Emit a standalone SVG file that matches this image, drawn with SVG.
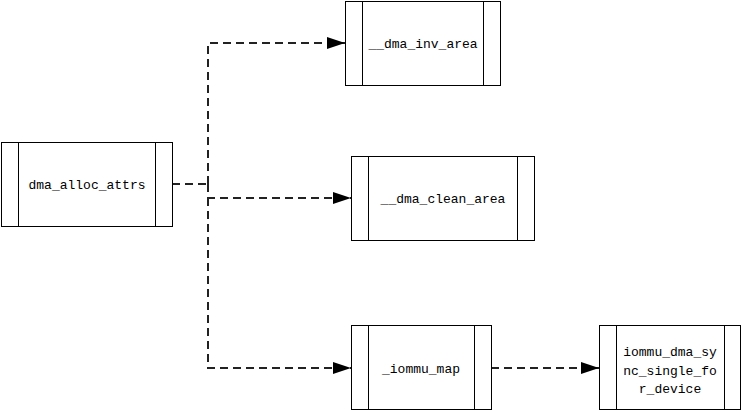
<svg xmlns="http://www.w3.org/2000/svg" width="742" height="411" viewBox="0 0 742 411">
<style>
.box{fill:#fff;stroke:#000;stroke-width:1}
.bar{stroke:#000;stroke-width:1}
.lbl{font-family:"Liberation Mono","DejaVu Sans Mono",monospace;font-size:13px;fill:#000;text-anchor:middle}
.con{fill:none;stroke:#222;stroke-width:2;stroke-dasharray:8,5}
</style>
<defs>
<marker id="arr" markerWidth="18" markerHeight="12" refX="18" refY="6" orient="auto" markerUnits="userSpaceOnUse">
<path d="M0,0 L18,6 L0,12 Z" fill="#000"/>
</marker>
</defs>
<rect width="742" height="411" fill="#fff"/>
<g id="connectors">
<path class="con" d="M172,184 H208"/>
<path class="con" d="M208,184 V43 H345" marker-end="url(#arr)"/>
<path class="con" d="M208,184 V198 H351" marker-end="url(#arr)"/>
<path class="con" d="M208,198 V368 H351" marker-end="url(#arr)"/>
<path class="con" d="M491,368 H599" marker-end="url(#arr)"/>
</g>
<g id="dma_alloc_attrs">
<rect class="box" x="1.5" y="142.5" width="171" height="84"/>
<line class="bar" x1="18.5" y1="142.5" x2="18.5" y2="226.5"/>
<line class="bar" x1="155.5" y1="142.5" x2="155.5" y2="226.5"/>
<text class="lbl" x="87" y="189">dma_alloc_attrs</text>
</g>
<g id="dma_inv_area">
<rect class="box" x="345.5" y="1.5" width="155" height="84"/>
<line class="bar" x1="362.5" y1="1.5" x2="362.5" y2="85.5"/>
<line class="bar" x1="483.5" y1="1.5" x2="483.5" y2="85.5"/>
<text class="lbl" x="423" y="48">__dma_inv_area</text>
</g>
<g id="dma_clean_area">
<rect class="box" x="351.5" y="156.5" width="183" height="84"/>
<line class="bar" x1="368.5" y1="156.5" x2="368.5" y2="240.5"/>
<line class="bar" x1="517.5" y1="156.5" x2="517.5" y2="240.5"/>
<text class="lbl" x="443" y="203">__dma_clean_area</text>
</g>
<g id="iommu_map">
<rect class="box" x="351.5" y="325.5" width="140" height="84"/>
<line class="bar" x1="368.5" y1="325.5" x2="368.5" y2="409.5"/>
<line class="bar" x1="474.5" y1="325.5" x2="474.5" y2="409.5"/>
<text class="lbl" x="421" y="373">_iommu_map</text>
</g>
<g id="iommu_dma_sync_single_for_device">
<rect class="box" x="599.5" y="325.5" width="141" height="84"/>
<line class="bar" x1="616.5" y1="325.5" x2="616.5" y2="409.5"/>
<line class="bar" x1="724.5" y1="325.5" x2="724.5" y2="409.5"/>
<text class="lbl" x="670" y="356">iommu_dma_sy</text>
<text class="lbl" x="670" y="375">nc_single_fo</text>
<text class="lbl" x="670" y="393">r_device</text>
</g>
</svg>
